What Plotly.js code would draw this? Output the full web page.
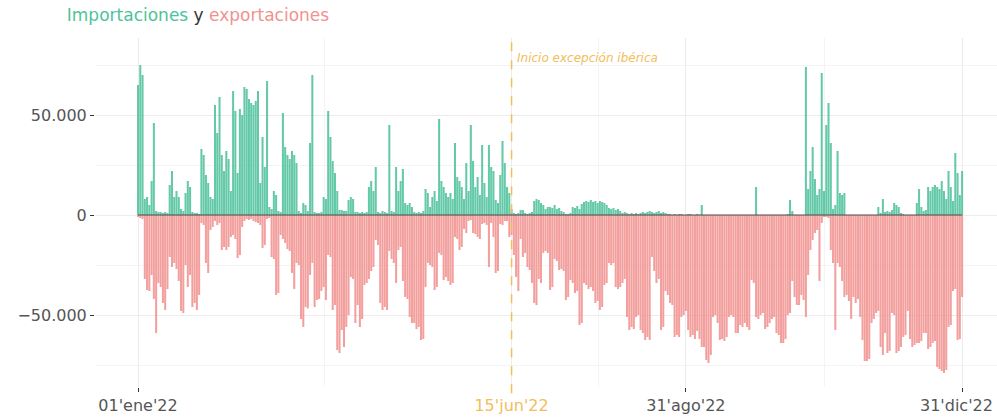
<!DOCTYPE html>
<html>
<head>
<meta charset="utf-8">
<script src="https://cdn.plot.ly/plotly-3.0.1.min.js"></script>
<style>
	html, body { margin: 0; padding: 0; background: #ffffff; }
	#chart { width: 997px; height: 419px; }
</style>
</head>
<body>
<div id="chart"></div>
<script>
// daily values for 2022, one per day starting 1 Jan (MWh)
const importaciones = [
	65000, 75000, 70000, 8000, 9000, 5000, 17000, 46000, 2000, 1500,
	1500, 1000, 1500, 1000, 15000, 22000, 9000, 12000, 9000, 3000,
	2000, 11000, 17000, 14000, 1500, 1000, 1000, 500, 33000, 30000,
	20000, 16000, 9000, 8000, 55000, 41000, 59000, 30000, 22000, 32000,
	28000, 12000, 62000, 52000, 21000, 53000, 50000, 64000, 63000, 58000,
	56000, 55000, 57000, 62000, 16000, 39000, 24000, 67000, 4000, 3000,
	12000, 10000, 2000, 1500, 51000, 34000, 30000, 28000, 32000, 30000,
	26000, 2000, 1000, 6000, 5000, 2000, 36000, 70000, 1500, 1000,
	1000, 1500, 9000, 8000, 52000, 39000, 27000, 21000, 12000, 2500,
	2500, 2000, 2000, 7500, 9000, 8000, 1500, 1500, 1000, 1500,
	1000, 1500, 14000, 17000, 12000, 24000, 1500, 1000, 2000, 1500,
	1000, 45000, 2000, 1500, 24000, 12000, 17000, 23000, 6000, 5000,
	6000, 4000, 1500, 1000, 1500, 1000, 2000, 13000, 11000, 4000,
	9000, 12000, 7000, 48000, 17000, 14000, 11000, 9000, 11000, 8000,
	36000, 19000, 17000, 14000, 8000, 26000, 12000, 45000, 27000, 14000,
	19000, 10000, 35000, 16000, 9000, 35000, 24000, 22000, 7500, 6000,
	20000, 37000, 26000, 14000, 11000, 3000, 1000, 500, 1000, 2500,
	2500, 1000, 500, 1000, 1500, 7000, 8000, 7500, 6000, 5000,
	3000, 4000, 4000, 3500, 5000, 3000, 3500, 2000, 1500, 500,
	500, 1000, 4000, 3500, 4500, 3000, 5500, 6500, 7000, 6500,
	7500, 6500, 7000, 6000, 7000, 6500, 6000, 5000, 3500, 3000,
	3500, 2500, 3000, 2000, 1000, 1500, 1000, 500, 1000, 500,
	1000, 500, 1000, 1500, 1000, 1500, 2000, 1500, 1000, 1500,
	2000, 1000, 1500, 1000, 500, 500, 0, 500, 0, 500,
	500, 0, 0, 500, 500, 0, 0, 500, 0, 5000,
	0, 0, 0, 0, 0, 0, 0, 0, 0, 0,
	0, 0, 0, 0, 0, 0, 0, 0, 0, 0,
	0, 0, 0, 14000, 0, 0, 0, 0, 0, 0,
	0, 0, 0, 0, 0, 0, 0, 500, 7500, 2000,
	0, 0, 0, 0, 0, 74000, 13000, 22000, 34000, 18000,
	10000, 13000, 71000, 12000, 45000, 56000, 36000, 3000, 5000, 32000,
	11000, 10000, 11000, 0, 0, 0, 0, 0, 0, 0,
	0, 0, 0, 0, 0, 0, 0, 4000, 1000, 8000,
	1500, 2000, 1500, 2500, 6000, 5000, 4000, 1000, 500, 0,
	0, 0, 0, 0, 6000, 13000, 4000, 2000, 2500, 14000,
	12000, 14000, 15000, 14000, 13000, 17000, 12000, 8000, 22000, 14000,
	7000, 31000, 21000, 10000, 22000,
];

const exportaciones = [
	-1000, -1500, -2000, -32000, -37500, -38000, -30000, -42000, -59000, -34000,
	-36000, -44000, -47500, -37000, -21000, -26000, -24000, -27000, -33000, -48000,
	-49000, -25000, -36000, -30000, -46000, -44000, -47500, -40000, -4000, -5000,
	-24000, -29000, -7500, -6000, -3000, -5000, -4000, -17500, -16000, -17500,
	-16000, -11000, -10000, -12000, -21500, -20000, -6000, -3000, -2000, -2500,
	-2000, -3000, -3500, -4000, -5000, -16500, -15000, -2000, -1500, -21000,
	-22000, -40000, -39000, -10000, -12000, -14000, -17000, -18000, -29000, -37000,
	-24000, -25000, -52000, -56000, -46000, -46700, -30000, -24000, -46000, -42500,
	-42000, -38000, -36000, -42500, -20000, -21000, -47500, -45000, -67500, -69000,
	-57500, -66000, -56000, -50000, -31000, -32000, -54000, -45000, -56000, -52000,
	-35000, -34000, -32000, -28000, -26000, -12500, -15000, -44000, -47500, -46000,
	-47500, -18000, -22000, -24000, -34000, -17500, -16000, -33000, -41000, -42000,
	-51000, -54000, -54000, -57000, -56000, -62500, -62000, -36000, -24000, -25000,
	-26000, -37500, -36000, -19000, -20000, -32500, -31000, -33000, -35000, -34000,
	-11000, -12000, -17500, -16000, -7000, -9000, -3000, -2500, -9000, -9500,
	-11000, -12000, -4500, -4000, -5000, -26000, -4000, -11000, -29000, -28000,
	-4500, -5000, -3000, -3000, -11000, -10000, -20000, -31000, -38000, -12000,
	-21000, -19000, -26000, -27500, -34000, -44000, -45000, -32000, -34000, -19000,
	-18000, -19000, -37500, -36000, -22000, -23000, -27500, -27000, -28000, -42500,
	-41000, -32500, -34000, -39000, -38000, -55000, -54000, -34000, -35000, -37000,
	-36000, -38000, -44000, -43000, -47500, -46000, -35000, -34000, -24000, -25000,
	-24000, -36000, -37000, -36000, -34000, -32000, -51000, -57500, -56000, -57000,
	-51000, -50000, -57500, -59000, -62500, -61000, -62500, -21000, -28000, -34000,
	-32000, -57500, -56000, -38000, -40000, -44000, -45000, -61000, -60000, -61000,
	-51000, -50000, -48000, -57500, -61000, -60000, -62000, -58000, -62000, -66000,
	-66000, -72500, -74000, -70000, -51000, -50000, -54000, -62500, -62000, -63000,
	-61000, -51000, -50000, -51000, -59000, -59000, -55000, -56000, -54000, -56000,
	-57500, -32500, -34000, -51000, -52000, -50000, -49000, -57000, -56000, -54000,
	-52000, -51000, -59000, -60000, -64000, -64000, -62000, -50000, -49000, -33000,
	-41000, -45000, -45000, -40000, -42500, -51000, -30000, -17500, -12500, -9000,
	-7500, -33000, -4000, -1000, -1000, -1500, -17500, -24000, -57500, -24000,
	-26000, -33000, -41000, -40000, -43000, -52000, -41000, -44000, -42000, -51000,
	-62500, -73000, -73000, -72000, -54000, -52000, -49000, -48000, -66000, -70000,
	-59000, -69000, -68000, -49000, -50000, -69000, -68000, -66000, -61000, -60000,
	-48000, -62000, -66000, -65000, -64000, -64000, -63000, -59000, -59000, -67000,
	-66000, -64000, -63000, -76000, -77000, -78000, -79000, -77500, -56000, -55000,
	-38000, -37000, -62500, -62000, -41000,
];

const tickDates = ['2022-01-01', '2022-06-15', '2022-08-31', '2022-12-31'];
const tickLabels = ["01'ene'22", "15'jun'22", "31'ago'22", "31'dic'22"];
const minorDates = ['2022-03-24 12:00', '2022-07-23 12:00', '2022-10-31'];
const inicioExcepcion = '2022-06-15';

const GREEN = '#4ec29c';
const PINK = '#f0928f';
const ORANGE = '#f3bd5a';
const FONT = 'DejaVu Sans';

function buildDates(count) {
	const out = [];
	const start = Date.UTC(2022, 0, 1);
	for (let i = 0; i < count; i++) {
		out.push(new Date(start + i * 86400000).toISOString().slice(0, 10));
	}
	return out;
}

function plotIntercambios() {
	const fechas = buildDates(importaciones.length);

	const traceImport = {
		x: fechas,
		y: importaciones,
		type: 'bar',
		name: 'Importaciones',
		marker: { color: GREEN, opacity: 0.88, line: { width: 0 } },
	};

	const traceExport = {
		x: fechas,
		y: exportaciones,
		type: 'bar',
		name: 'Exportaciones',
		marker: { color: PINK, opacity: 0.88, line: { width: 0 } },
	};

	// June label in orange like the line; the last label would run past the
	// page edge, so it is drawn as an annotation pinned to the right instead
	const lastIdx = tickLabels.length - 1;
	const ticktext = tickLabels.map((label, i) => {
		if (tickDates[i] === inicioExcepcion) return `<span style="color:${ORANGE}">${label}</span>`;
		if (i === lastIdx) return '';
		return label;
	});

	const layout = {
		width: 997,
		height: 419,
		margin: { l: 95, r: 0, t: 38, b: 32 },
		paper_bgcolor: '#ffffff',
		plot_bgcolor: '#ffffff',
		separators: ',.',
		showlegend: false,
		barmode: 'relative',
		bargap: 0.1,
		font: { family: FONT, color: '#555555' },
		title: {
			text:
				`<span style="color:${GREEN}">Importaciones</span>` +
				` <span style="color:#333333">y</span> ` +
				`<span style="color:${PINK}">exportaciones</span>`,
			xref: 'container',
			yref: 'container',
			x: 0.067,
			xanchor: 'left',
			y: 0.965,
			yanchor: 'middle',
			font: { family: FONT, size: 17 },
		},
		xaxis: {
			type: 'date',
			range: ['2021-12-13', '2023-01-15 10:00'],
			tickmode: 'array',
			tickvals: tickDates,
			ticktext,
			ticks: 'outside',
			ticklen: 4,
			tickcolor: '#333333',
			tickfont: { family: FONT, size: 16, color: '#555555' },
			showgrid: true,
			gridcolor: '#ececec',
			gridwidth: 1,
			minor: { tickvals: minorDates, showgrid: true, gridcolor: '#f4f4f4', ticks: '' },
			showline: false,
			zeroline: false,
		},
		yaxis: {
			range: [-86000, 88500],
			tickmode: 'array',
			tickvals: [-50000, 0, 50000],
			tickformat: ',d',
			ticks: 'outside',
			ticklen: 4,
			tickcolor: '#333333',
			tickfont: { family: FONT, size: 16, color: '#555555' },
			showgrid: true,
			gridcolor: '#ececec',
			gridwidth: 1,
			minor: { tickvals: [-75000, -25000, 25000, 75000], showgrid: true, gridcolor: '#f4f4f4', ticks: '' },
			zeroline: false,
			showline: false,
		},
		shapes: [
			{
				type: 'line',
				xref: 'x',
				yref: 'y',
				x0: fechas[0],
				x1: fechas[fechas.length - 1],
				y0: 0,
				y1: 0,
				layer: 'above',
				line: { color: '#4a4a4a', width: 1 },
			},
			{
				type: 'line',
				xref: 'x',
				yref: 'paper',
				x0: inicioExcepcion,
				x1: inicioExcepcion,
				y0: -0.018,
				y1: 1,
				layer: 'above',
				line: { color: ORANGE, width: 1.5, dash: 'dash' },
			},
		],
		annotations: [
			{
				text: 'Inicio excepción ibérica',
				xref: 'x',
				yref: 'paper',
				x: inicioExcepcion,
				y: 0.943,
				xanchor: 'left',
				yanchor: 'middle',
				xshift: 3,
				showarrow: false,
				font: { family: FONT, size: 12, color: ORANGE, style: 'italic' },
			},
			{
				text: tickLabels[lastIdx],
				xref: 'paper',
				yref: 'paper',
				x: 1,
				y: 0,
				xanchor: 'right',
				yanchor: 'middle',
				xshift: -2,
				yshift: -18,
				showarrow: false,
				font: { family: FONT, size: 16, color: '#555555' },
			},
		],
	};

	const config = { displayModeBar: false, staticPlot: true };
	Plotly.newPlot('chart', [traceImport, traceExport], layout, config);
}

document.addEventListener('DOMContentLoaded', plotIntercambios);
</script>
</body>
</html>
